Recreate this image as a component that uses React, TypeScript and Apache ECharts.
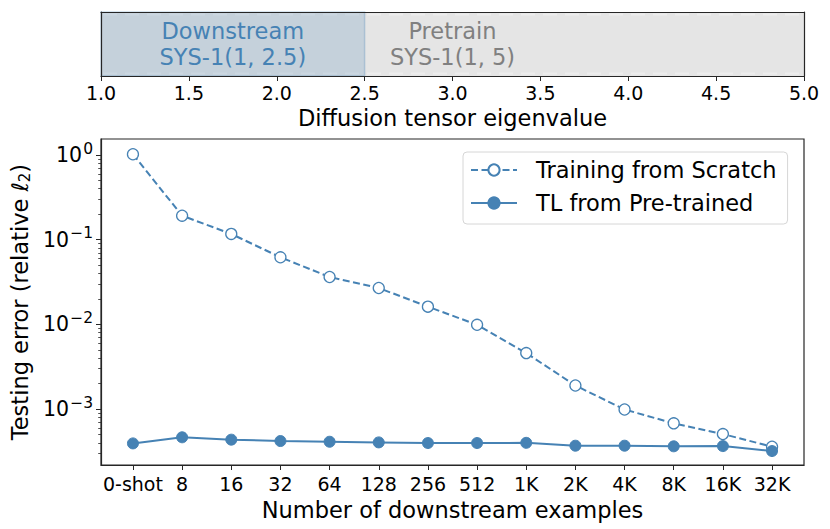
import React, { useEffect, useRef } from "react";
import * as echarts from "echarts";

const categories = ["0-shot", "8", "16", "32", "64", "128", "256", "512", "1K", "2K", "4K", "8K", "16K", "32K"];
const scratchValues = [1.02, 0.192, 0.117, 0.062, 0.0363, 0.0269, 0.0162, 0.0099, 0.00459, 0.0019, 0.00099, 0.00068, 0.000508, 0.00036];
const pretrainedValues = [0.000394, 0.000465, 0.000436, 0.00042, 0.000412, 0.000405, 0.000398, 0.000398, 0.0004, 0.00037, 0.00037, 0.000364, 0.000366, 0.00032];
const seriesNames = ["Training from Scratch", "TL from Pre-trained"];

const regionStart = [1, 1];
const regionEnd = [5, 2.5];
const regionTitles = ["Pretrain", "Downstream"];
const regionSpecs = ["SYS-1(1, 5)", "SYS-1(1, 2.5)"];

const majorYTicks = [0.001, 0.01, 0.1, 1];
const minorYTicks = [
  3e-4, 4e-4, 5e-4, 6e-4, 7e-4, 8e-4, 9e-4,
  2e-3, 3e-3, 4e-3, 5e-3, 6e-3, 7e-3, 8e-3, 9e-3,
  2e-2, 3e-2, 4e-2, 5e-2, 6e-2, 7e-2, 8e-2, 9e-2,
  2e-1, 3e-1, 4e-1, 5e-1, 6e-1, 7e-1, 8e-1, 9e-1,
];
const categoryPositions = categories.map((_, i) => i);

const FONT = "DejaVu Sans";
const BLUE = "#4682b4";
const FRAME = "#262626";

export default function App() {
  const ref = useRef<HTMLDivElement>(null);

  useEffect(() => {
    if (!ref.current) return;
    const chart = echarts.init(ref.current, undefined, { renderer: "svg" });

    const yMin = 2.19e-4;
    const yMax = 1.545;

    const option: any = {
      animation: false,
      backgroundColor: "#ffffff",
      textStyle: { fontFamily: FONT },
      grid: [
        { left: 101, right: 26, top: 12, height: 64, show: false },
        { left: 101, right: 26, top: 139, height: 326, show: true, borderColor: FRAME, borderWidth: 1.2 },
      ],
      xAxis: [
        {
          type: "value",
          gridIndex: 0,
          min: 1,
          max: 5,
          interval: 0.5,
          z: 5,
          splitLine: { show: false },
          axisLine: { show: true, onZero: false, lineStyle: { color: FRAME, width: 1.2 } },
          axisTick: { show: true, length: 5, lineStyle: { color: FRAME } },
          axisLabel: {
            fontFamily: FONT, fontSize: 19, color: "#000", margin: 7,
            formatter: (v: number) => v.toFixed(1),
            showMinLabel: true, showMaxLabel: true,
          },
          name: "Diffusion tensor eigenvalue",
          nameLocation: "middle",
          nameGap: 30,
          nameTextStyle: { fontFamily: FONT, fontSize: 22.5, color: "#000" },
        },
        {
          type: "value",
          gridIndex: 1,
          min: -0.65,
          max: 13.65,
          splitLine: { show: false },
          axisLine: { show: true, onZero: false, lineStyle: { color: FRAME, width: 1.2 } },
          axisTick: { show: true, length: 5, lineStyle: { color: FRAME }, customValues: categoryPositions },
          axisLabel: {
            fontFamily: FONT, fontSize: 19, color: "#000", margin: 9,
            customValues: categoryPositions,
            formatter: (v: number) => categories[Math.round(v)] ?? "",
          },
          name: "Number of downstream examples",
          nameLocation: "middle",
          nameGap: 33,
          nameTextStyle: { fontFamily: FONT, fontSize: 22.5, color: "#000" },
        },
        {
          type: "value",
          gridIndex: 0,
          min: 1,
          max: 5,
          position: "top",
          z: 5,
          splitLine: { show: false },
          axisLine: { show: true, onZero: false, lineStyle: { color: FRAME, width: 1.2 } },
          axisTick: { show: false },
          axisLabel: { show: false },
        },
      ],
      yAxis: [
        {
          type: "value",
          gridIndex: 0,
          min: 0,
          max: 1,
          z: 5,
          position: "left",
          splitLine: { show: false },
          axisLine: { show: true, onZero: false, lineStyle: { color: FRAME, width: 1.2 } },
          axisTick: { show: false },
          axisLabel: { show: false },
        },
        {
          type: "log",
          logBase: 10,
          gridIndex: 1,
          min: yMin,
          max: yMax,
          position: "left",
          splitLine: { show: false },
          axisLine: { show: true, onZero: false, lineStyle: { color: FRAME, width: 1.2 } },
          axisTick: { show: true, length: 5, lineStyle: { color: FRAME }, customValues: majorYTicks },
          axisLabel: {
            fontFamily: FONT, fontSize: 20.5, color: "#000", margin: 8,
            customValues: majorYTicks,
            formatter: (v: number) => {
              const e = Math.round(Math.log10(v));
              const s = e < 0 ? "\u2212" + String(-e) : String(e);
              return "10{sup|" + s + "}";
            },
            rich: {
              sup: { fontFamily: FONT, fontSize: 15.5, color: "#000", padding: [0, 0, 13, 1] },
            },
          },
          name: "Testing error (relative {ell|\u2113}{sub|2})",
          nameLocation: "middle",
          nameGap: 64,
          nameTextStyle: {
            fontFamily: FONT, fontSize: 22.5, color: "#000",
            rich: {
              ell: { fontFamily: FONT, fontSize: 22.5, fontStyle: "italic", color: "#000" },
              sub: { fontFamily: FONT, fontSize: 15, color: "#000", padding: [10, 0, 0, 0] },
            },
          },
        },
        {
          type: "log",
          logBase: 10,
          gridIndex: 1,
          min: yMin,
          max: yMax,
          position: "left",
          splitLine: { show: false },
          axisLine: { show: false, onZero: false },
          axisTick: { show: true, length: 2.8, lineStyle: { color: FRAME, width: 0.8 }, customValues: minorYTicks },
          axisLabel: { show: false },
        },
        {
          type: "value",
          gridIndex: 0,
          min: 0,
          max: 1,
          z: 5,
          position: "right",
          splitLine: { show: false },
          axisLine: { show: true, onZero: false, lineStyle: { color: FRAME, width: 1.2 } },
          axisTick: { show: false },
          axisLabel: { show: false },
        },
      ],
      legend: {
        data: [
          { name: seriesNames[0] },
          { name: seriesNames[1] },
        ],
        orient: "vertical",
        left: 463,
        top: 152,
        padding: [6, 11, 9, 7],
        itemGap: 9,
        itemWidth: 46,
        itemHeight: 14,
        backgroundColor: "#ffffff",
        borderColor: "#d6d6d6",
        borderWidth: 1,
        borderRadius: 4,
        textStyle: { fontFamily: FONT, fontSize: 22.5, color: "#000", lineHeight: 24, padding: [0, 0, 0, 14] },
      },
      series: [
        {
          type: "custom",
          xAxisIndex: 0,
          yAxisIndex: 0,
          z: 1,
          silent: true,
          data: regionStart.map((s, i) => [s, regionEnd[i], i]),
          renderItem: (params: any, api: any) => {
            const s = api.value(0);
            const e = api.value(1);
            const i = api.value(2);
            const p0 = api.coord([s, 1]);
            const p1 = api.coord([e, 0]);
            const c = api.coord([(s + e) / 2, 0.5]);
            const isDown = i === 1;
            const w = p1[0] - p0[0];
            const h = p1[1] - p0[1];
            const children: any[] = [
              {
                type: "rect",
                shape: { x: p0[0], y: p0[1], width: w, height: h },
                style: isDown
                  ? { fill: "rgba(70,130,180,0.2)", stroke: "rgba(70,130,180,0.28)", lineWidth: 1.5 }
                  : { fill: "#e5e5e5" },
              },
            ];
            if (!isDown) {
              children.push(
                {
                  type: "line",
                  shape: { x1: p0[0] + 2, y1: p0[1] + 2.5, x2: p1[0] - 2, y2: p0[1] + 2.5 },
                  style: { stroke: "#ededed", lineWidth: 2, lineDash: [14, 8] },
                },
                {
                  type: "line",
                  shape: { x1: p0[0] + 2, y1: p1[1] - 2.5, x2: p1[0] - 2, y2: p1[1] - 2.5 },
                  style: { stroke: "#ededed", lineWidth: 2, lineDash: [14, 8] },
                }
              );
            }
            children.push({
              type: "text",
              x: c[0],
              y: c[1],
              style: {
                text: regionTitles[i] + "\n" + regionSpecs[i],
                fill: isDown ? BLUE : "#808080",
                font: "22.5px '" + FONT + "'",
                align: "center",
                verticalAlign: "middle",
                lineHeight: 26,
              },
            });
            return { type: "group", children };
          },
        },
        {
          name: seriesNames[0],
          type: "line",
          xAxisIndex: 1,
          yAxisIndex: 1,
          data: scratchValues.map((v, i) => [i, v]),
          symbol: "circle",
          symbolSize: 11,
          showSymbol: true,
          lineStyle: { color: BLUE, width: 2, type: [7, 3.5] },
          itemStyle: { color: "#ffffff", borderColor: BLUE, borderWidth: 1.3 },
          z: 3,
        },
        {
          name: seriesNames[1],
          type: "line",
          xAxisIndex: 1,
          yAxisIndex: 1,
          data: pretrainedValues.map((v, i) => [i, v]),
          symbol: "circle",
          symbolSize: 11,
          showSymbol: true,
          lineStyle: { color: BLUE, width: 2 },
          itemStyle: { color: BLUE, borderColor: BLUE, borderWidth: 1 },
          z: 3,
        },
      ],
    };

    chart.setOption(option);
    return () => chart.dispose();
  }, []);

  return (
    <div
      ref={ref}
      style={{ position: "fixed", left: 0, top: 0, width: 830, height: 529 }}
    />
  );
}
